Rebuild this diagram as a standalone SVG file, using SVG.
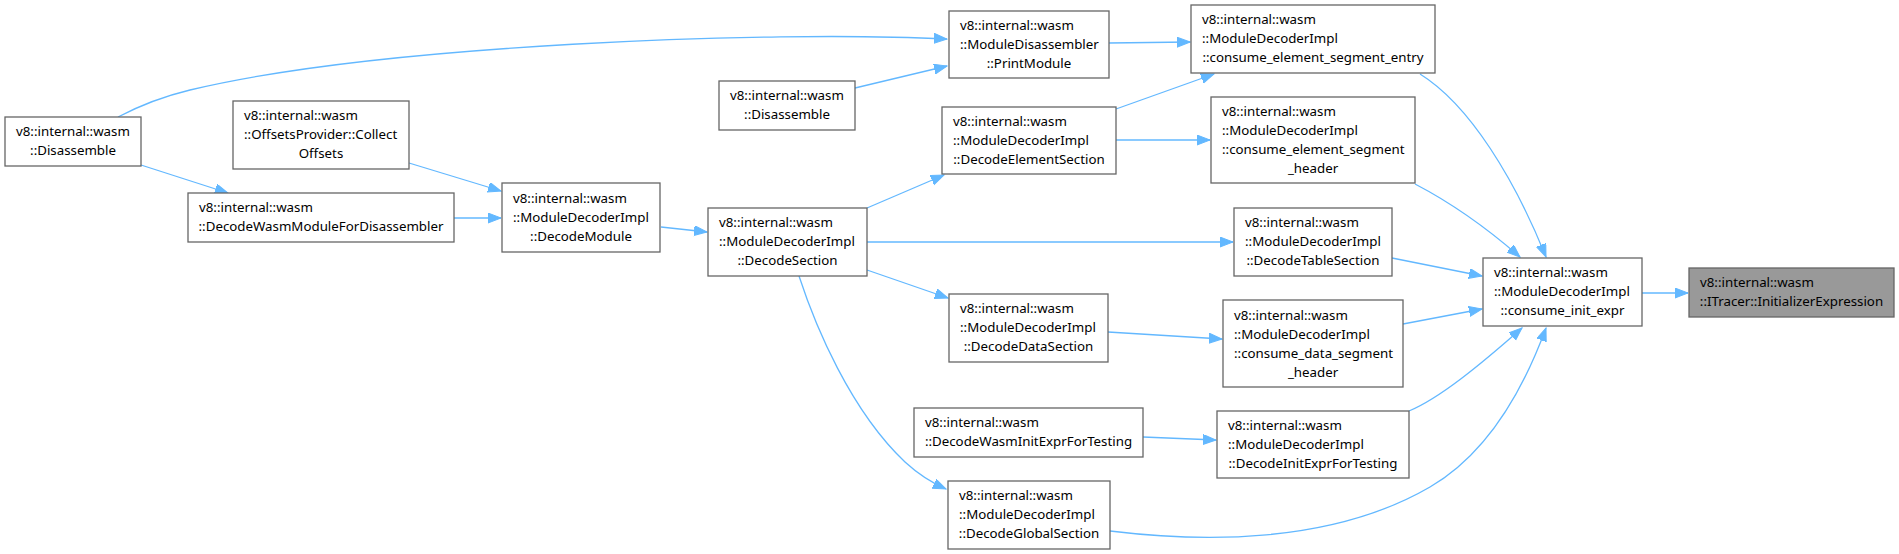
<svg xmlns="http://www.w3.org/2000/svg" width="1899" height="554" viewBox="0 0 1899 554">
<style>
.n rect{fill:#ffffff;stroke:#666666;stroke-width:1.3}
.n.h rect{fill:#999999}
.n text{font-family:"Noto Sans","Open Sans","DejaVu Sans",sans-serif;font-size:13.3px;fill:#000000}
.e path{fill:none;stroke:#63b8ff;stroke-width:1.3;marker-end:url(#ah)}
</style>
<defs>
<marker id="ah" markerUnits="userSpaceOnUse" markerWidth="14" markerHeight="11" refX="13" refY="5" orient="auto">
<path d="M0,0 L13,5 L0,10 z" fill="#63b8ff" stroke="#63b8ff" stroke-width="1"/>
</marker>
</defs>
<rect width="1899" height="554" fill="#ffffff"/>
<g id="edges" class="e">
<path d="M118,117 C139,106 165,96 190,90 C378,45 770,30 947,39"/>
<path d="M141,165 L228,193"/>
<path d="M409,163 L501,191"/>
<path d="M454,218 L501,218"/>
<path d="M661,227 L707,232"/>
<path d="M867,208 L944,175"/>
<path d="M867,242 L1233,242"/>
<path d="M867,270 L948,298"/>
<path d="M799,276 C815,325 850,410 905,462 C917,473 930,482 946,489"/>
<path d="M855,88 L947,66"/>
<path d="M1109,43 L1190,42"/>
<path d="M1116,109 L1214,74"/>
<path d="M1116,140 L1210,140"/>
<path d="M1108,332 L1222,339"/>
<path d="M1143,437 L1216,440"/>
<path d="M1420,74 C1470,105 1515,180 1546,257"/>
<path d="M1415,184 C1440,197 1480,222 1520,257"/>
<path d="M1392,258 L1482,276"/>
<path d="M1403,324 L1482,309"/>
<path d="M1409,411 C1440,398 1480,365 1522,328"/>
<path d="M1110,531 C1200,542 1330,545 1430,487 C1490,452 1525,385 1546,328"/>
<path d="M1642,293 L1688,293"/>
</g>
<g id="n1" class="n"><rect x="5" y="117" width="136" height="49"/><text><tspan x="16" y="136">v8::internal::wasm</tspan><tspan x="73" y="155" text-anchor="middle">::Disassemble</tspan></text></g>
<g id="n2" class="n"><rect x="233" y="101" width="176" height="68"/><text><tspan x="244" y="120">v8::internal::wasm</tspan><tspan x="244" y="139">::OffsetsProvider::Collect</tspan><tspan x="321" y="158" text-anchor="middle">Offsets</tspan></text></g>
<g id="n3" class="n"><rect x="188" y="193" width="266" height="49"/><text><tspan x="199" y="212">v8::internal::wasm</tspan><tspan x="321" y="231" text-anchor="middle">::DecodeWasmModuleForDisassembler</tspan></text></g>
<g id="n4" class="n"><rect x="502" y="183" width="158" height="69"/><text><tspan x="513" y="203">v8::internal::wasm</tspan><tspan x="513" y="222">::ModuleDecoderImpl</tspan><tspan x="581" y="241" text-anchor="middle">::DecodeModule</tspan></text></g>
<g id="n5" class="n"><rect x="708" y="208" width="159" height="68"/><text><tspan x="719" y="227">v8::internal::wasm</tspan><tspan x="719" y="246">::ModuleDecoderImpl</tspan><tspan x="787.5" y="265" text-anchor="middle">::DecodeSection</tspan></text></g>
<g id="n6" class="n"><rect x="719" y="81" width="136" height="49"/><text><tspan x="730" y="100">v8::internal::wasm</tspan><tspan x="787" y="119" text-anchor="middle">::Disassemble</tspan></text></g>
<g id="n7" class="n"><rect x="949" y="11" width="160" height="67"/><text><tspan x="960" y="30">v8::internal::wasm</tspan><tspan x="960" y="49">::ModuleDisassembler</tspan><tspan x="1029" y="68" text-anchor="middle">::PrintModule</tspan></text></g>
<g id="n8" class="n"><rect x="1191" y="5" width="244" height="68"/><text><tspan x="1202" y="24">v8::internal::wasm</tspan><tspan x="1202" y="43">::ModuleDecoderImpl</tspan><tspan x="1313" y="62" text-anchor="middle">::consume_element_segment_entry</tspan></text></g>
<g id="n9" class="n"><rect x="942" y="107" width="174" height="67"/><text><tspan x="953" y="126">v8::internal::wasm</tspan><tspan x="953" y="145">::ModuleDecoderImpl</tspan><tspan x="1029" y="164" text-anchor="middle">::DecodeElementSection</tspan></text></g>
<g id="n10" class="n"><rect x="1211" y="97" width="204" height="86"/><text><tspan x="1222" y="116">v8::internal::wasm</tspan><tspan x="1222" y="135">::ModuleDecoderImpl</tspan><tspan x="1222" y="154">::consume_element_segment</tspan><tspan x="1313" y="173" text-anchor="middle">_header</tspan></text></g>
<g id="n11" class="n"><rect x="1234" y="208" width="158" height="68"/><text><tspan x="1245" y="227">v8::internal::wasm</tspan><tspan x="1245" y="246">::ModuleDecoderImpl</tspan><tspan x="1313" y="265" text-anchor="middle">::DecodeTableSection</tspan></text></g>
<g id="n12" class="n"><rect x="949" y="294" width="159" height="68"/><text><tspan x="960" y="313">v8::internal::wasm</tspan><tspan x="960" y="332">::ModuleDecoderImpl</tspan><tspan x="1028.5" y="351" text-anchor="middle">::DecodeDataSection</tspan></text></g>
<g id="n13" class="n"><rect x="1223" y="300" width="180" height="87"/><text><tspan x="1234" y="320">v8::internal::wasm</tspan><tspan x="1234" y="339">::ModuleDecoderImpl</tspan><tspan x="1234" y="358">::consume_data_segment</tspan><tspan x="1313" y="377" text-anchor="middle">_header</tspan></text></g>
<g id="n14" class="n"><rect x="914" y="408" width="229" height="49"/><text><tspan x="925" y="427">v8::internal::wasm</tspan><tspan x="1028.5" y="446" text-anchor="middle">::DecodeWasmInitExprForTesting</tspan></text></g>
<g id="n15" class="n"><rect x="1217" y="411" width="192" height="67"/><text><tspan x="1228" y="430">v8::internal::wasm</tspan><tspan x="1228" y="449">::ModuleDecoderImpl</tspan><tspan x="1313" y="468" text-anchor="middle">::DecodeInitExprForTesting</tspan></text></g>
<g id="n16" class="n"><rect x="948" y="481" width="162" height="68"/><text><tspan x="959" y="500">v8::internal::wasm</tspan><tspan x="959" y="519">::ModuleDecoderImpl</tspan><tspan x="1029" y="538" text-anchor="middle">::DecodeGlobalSection</tspan></text></g>
<g id="n17" class="n"><rect x="1483" y="258" width="159" height="68"/><text><tspan x="1494" y="277">v8::internal::wasm</tspan><tspan x="1494" y="296">::ModuleDecoderImpl</tspan><tspan x="1562.5" y="315" text-anchor="middle">::consume_init_expr</tspan></text></g>
<g id="n18" class="n h"><rect x="1689" y="268" width="205" height="49"/><text><tspan x="1700" y="287">v8::internal::wasm</tspan><tspan x="1791.5" y="306" text-anchor="middle">::ITracer::InitializerExpression</tspan></text></g>
</svg>
